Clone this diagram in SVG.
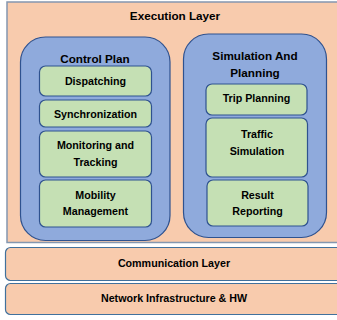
<svg xmlns="http://www.w3.org/2000/svg" width="337" height="320" viewBox="0 0 337 320">
<style>
.layer{fill:#F8CBAD;stroke:#41719C;stroke-width:1.2}
.exec{fill:#F8CBAD;stroke:#8497B0;stroke-width:1.5}
.group{fill:#8FAADC;stroke:#2F528F;stroke-width:1.2}
.item{fill:#C5E0B4;stroke:#2F528F;stroke-width:1.2}
text{font-family:"Liberation Sans",Arial,sans-serif;font-weight:bold;fill:#000;text-anchor:middle}
.t1{font-size:11.7px}
.t2{font-size:10.7px}
</style>
<g id="execution-layer">
<rect class="exec" x="7" y="2" width="340" height="240.5"/>
<text class="t1" x="175" y="20">Execution Layer</text>
</g>
<g id="control-plan">
<rect class="group" x="20.5" y="37" width="149.5" height="203.5" rx="25"/>
<text class="t1" x="95" y="63">Control Plan</text>
</g>
<g id="simulation-planning">
<rect class="group" x="183.5" y="34" width="143" height="203.5" rx="25"/>
<text class="t1" x="255" y="60">Simulation And</text>
<text class="t1" x="255" y="77">Planning</text>
</g>
<g id="dispatching">
<rect class="item" x="39.5" y="66" width="112" height="30" rx="6"/>
<text class="t2" x="95.5" y="85">Dispatching</text>
</g>
<g id="synchronization">
<rect class="item" x="39.5" y="100" width="112" height="27" rx="6"/>
<text class="t2" x="95.5" y="118">Synchronization</text>
</g>
<g id="monitoring">
<rect class="item" x="39.5" y="131" width="112" height="46" rx="6"/>
<text class="t2" x="95.5" y="149">Monitoring and</text>
<text class="t2" x="95.5" y="166">Tracking</text>
</g>
<g id="mobility">
<rect class="item" x="39.5" y="180" width="112" height="47" rx="6"/>
<text class="t2" x="95.5" y="199">Mobility</text>
<text class="t2" x="95.5" y="215">Management</text>
</g>
<g id="trip-planning">
<rect class="item" x="206" y="84" width="101" height="31" rx="6"/>
<text class="t2" x="256.5" y="102">Trip Planning</text>
</g>
<g id="traffic-simulation">
<rect class="item" x="206" y="118" width="101.5" height="59" rx="6"/>
<text class="t2" x="257" y="138">Traffic</text>
<text class="t2" x="257" y="155">Simulation</text>
</g>
<g id="result-reporting">
<rect class="item" x="207" y="180" width="101" height="46" rx="6"/>
<text class="t2" x="257.5" y="199">Result</text>
<text class="t2" x="257.5" y="215">Reporting</text>
</g>
<g id="communication-layer">
<rect class="layer" x="5.5" y="247.5" width="345" height="33" rx="5"/>
<text class="t2" x="174" y="267">Communication Layer</text>
</g>
<g id="network-layer">
<rect class="layer" x="5.5" y="283.5" width="345" height="31" rx="5"/>
<text class="t2" x="174" y="302">Network Infrastructure &amp; HW</text>
</g>
<g id="connectors"></g>
</svg>
